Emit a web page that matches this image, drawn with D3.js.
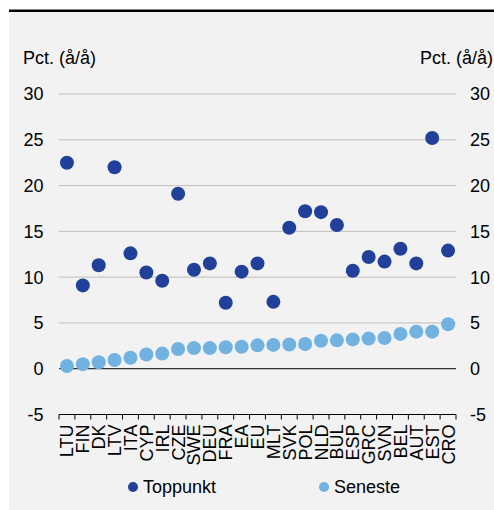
<!DOCTYPE html>
<html><head><meta charset="utf-8">
<script src="https://cdn.jsdelivr.net/npm/d3@7"></script>
<style>body{margin:0;background:#fff;}svg{display:block;font-family:"Liberation Sans",Arial,sans-serif;}</style>
</head><body><svg id="c" width="494" height="510"></svg>
<script>
const categories = ["LTU","FIN","DK","LTV","ITA","CYP","IRL","CZE","SWE","DEU","FRA","EA","EU","MLT","SVK","POL","NLD","BUL","ESP","GRC","SVN","BEL","AUT","EST","CRO"];
const toppunkt = [22.5,9.1,11.3,22.0,12.6,10.5,9.6,19.1,10.8,11.5,7.2,10.6,11.5,7.3,15.4,17.2,17.1,15.7,10.7,12.2,11.7,13.1,11.5,25.2,12.9];
const seneste = [0.3,0.5,0.7,0.95,1.2,1.55,1.65,2.15,2.25,2.25,2.35,2.4,2.55,2.6,2.65,2.7,3.05,3.1,3.2,3.3,3.35,3.8,4.05,4.05,4.85];
const yTicks = [-5,0,5,10,15,20,25,30];
const seriesNames = ["Toppunkt","Seneste"];
const colors = ["#21409a","#71b2e1"];

const svg = d3.select("#c");
svg.append("rect").attr("x",9).attr("y",11).attr("width",485).attr("height",499).attr("fill","#f2f2f2");
svg.append("rect").attr("x",9).attr("y",9.5).attr("width",485).attr("height",2.5).attr("fill","#000");

const left = 59, right = 456;
const x = d3.scaleBand().domain(categories).range([left, right]);
const y = d3.scaleLinear().domain([-5,30]).range([414.5, 94]);

// gridlines
svg.append("g").selectAll("line").data(yTicks.filter(t=>t!==0 && t!==-5)).join("line")
  .attr("x1",left).attr("x2",right).attr("y1",d=>y(d)).attr("y2",d=>y(d))
  .attr("stroke","#bfbfbf").attr("stroke-width",1);

// y labels
const fs = 18;
svg.append("g").selectAll("text").data(yTicks).join("text")
  .attr("x",43.5).attr("y",d=>y(d)).attr("dy","0.36em").attr("text-anchor","end")
  .attr("font-size",fs).attr("fill","#000").text(d=>d);
svg.append("g").selectAll("text").data(yTicks).join("text")
  .attr("x",470).attr("y",d=>y(d)).attr("dy","0.36em").attr("text-anchor","start")
  .attr("font-size",fs).attr("fill","#000").text(d=>d);
svg.append("text").attr("x",23).attr("y",58).attr("dy","0.36em").attr("font-size",fs).text("Pct. (å/å)");
svg.append("text").attr("x",493).attr("y",58).attr("dy","0.36em").attr("text-anchor","end").attr("font-size",fs).text("Pct. (å/å)");

// bottom axis at -5
const xAxis = d3.axisBottom(x).tickSize(0).tickFormat("");
const gx = svg.append("g").attr("transform",`translate(0,${y(-5)})`).call(xAxis);
gx.select(".domain").remove();
svg.append("line").attr("x1",left).attr("x2",right).attr("y1",y(-5)).attr("y2",y(-5)).attr("stroke","#000").attr("stroke-width",1);
const bounds = categories.map(c=>x(c)).concat([right]);
svg.append("g").selectAll("line").data(bounds).join("line")
  .attr("x1",d=>d).attr("x2",d=>d).attr("y1",y(-5)).attr("y2",y(-5)+5)
  .attr("stroke","#000").attr("stroke-width",1);
svg.append("g").selectAll("text").data(categories).join("text")
  .attr("transform",d=>`translate(${x(d)+x.bandwidth()/2},${y(-5)+10}) rotate(-90)`)
  .attr("text-anchor","end").attr("dy","0.36em").attr("font-size",fs).text(d=>d);

// zero line
svg.append("line").attr("x1",left).attr("x2",right).attr("y1",y(0)).attr("y2",y(0)).attr("stroke","#000").attr("stroke-width",1);

// points
const r = 7;
svg.append("g").selectAll("circle").data(seneste).join("circle")
  .attr("cx",(d,i)=>x(categories[i])+x.bandwidth()/2).attr("cy",d=>y(d)).attr("r",r).attr("fill",colors[1]);
svg.append("g").selectAll("circle").data(toppunkt).join("circle")
  .attr("cx",(d,i)=>x(categories[i])+x.bandwidth()/2).attr("cy",d=>y(d)).attr("r",r).attr("fill",colors[0]);

// legend
const legX = [133, 324];
const lg = svg.append("g").selectAll("g").data(seriesNames).join("g")
  .attr("transform",(d,i)=>`translate(${legX[i]},487)`);
lg.append("circle").attr("r",5).attr("fill",(d,i)=>colors[i]);
lg.append("text").attr("x",10).attr("dy","0.36em").attr("font-size",fs).text(d=>d);
</script></body></html>
